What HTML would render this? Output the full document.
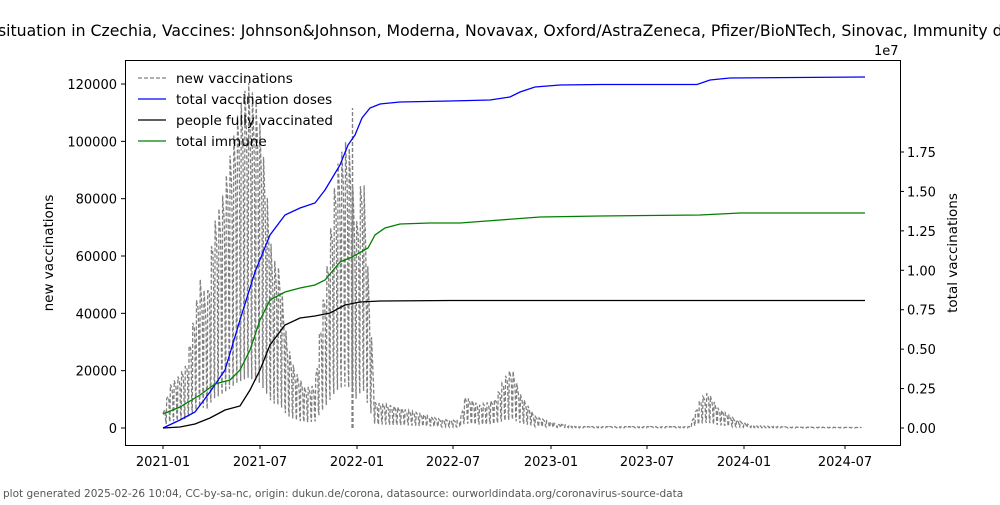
<!DOCTYPE html>
<html><head><meta charset="utf-8"><style>
body{margin:0;background:#fff;width:1000px;height:500px;overflow:hidden}
svg{font-family:"DejaVu Sans","Liberation Sans",sans-serif}
</style></head><body>
<svg id="s" width="1000" height="500" viewBox="0 0 1000 500" xmlns="http://www.w3.org/2000/svg">
<rect width="1000" height="500" fill="#fff"/>
<text x="-2" y="36" font-size="15.7" fill="#000">situation in Czechia, Vaccines: Johnson&amp;Johnson, Moderna, Novavax, Oxford/AstraZeneca, Pfizer/BioNTech, Sinovac, Immunity data</text>
<g id="plot"></g>
<rect x="125.5" y="60.5" width="775" height="385" fill="none" stroke="#000" stroke-width="1"/>
<g font-size="13" fill="#000" id="ticks"></g>
<text transform="translate(53,253) rotate(-90)" text-anchor="middle" font-size="13.5">new vaccinations</text>
<text transform="translate(957,253) rotate(-90)" text-anchor="middle" font-size="13.5">total vaccinations</text>
<text x="874" y="55" font-size="13">1e7</text>
<g font-size="13.5">
<line x1="138" y1="78" x2="166" y2="78" stroke="#808080" stroke-width="1.3" stroke-dasharray="4,2"/>
<text x="176" y="83">new vaccinations</text>
<line x1="138" y1="99" x2="166" y2="99" stroke="#0000ff" stroke-width="1.3"/>
<text x="176" y="104">total vaccination doses</text>
<line x1="138" y1="120" x2="166" y2="120" stroke="#000" stroke-width="1.3"/>
<text x="176" y="125">people fully vaccinated</text>
<line x1="138" y1="141" x2="166" y2="141" stroke="#008000" stroke-width="1.3"/>
<text x="176" y="146">total immune</text>
</g>
<text x="3" y="497" font-size="10.5" fill="#555">plot generated 2025-02-26 10:04, CC-by-sa-nc, origin: dukun.de/corona, datasource: ourworldindata.org/coronavirus-source-data</text>
</svg>
<script>
var NS="http://www.w3.org/2000/svg",P=document.getElementById('plot'),T=document.getElementById('ticks');
function el(t,a,par){var e=document.createElementNS(NS,t);for(var k in a)e.setAttribute(k,a[k]);(par||P).appendChild(e);return e}
function interp(pts,x){if(x<=pts[0][0])return pts[0][1];for(var i=1;i<pts.length;i++){if(x<=pts[i][0]){var a=pts[i-1],b=pts[i];return a[1]+(b[1]-a[1])*(x-a[0])/(b[0]-a[0]);}}return pts[pts.length-1][1]}
for(var v=0;v<=120000;v+=20000){var y=428-v/20000*57.33;el('line',{x1:121,x2:125,y1:y,y2:y,stroke:'#000'},T);var t=el('text',{x:117,y:y+5,'text-anchor':'end'},T);t.textContent=v;}
var rl=['0.00','0.25','0.50','0.75','1.00','1.25','1.50','1.75'];
for(var i=0;i<8;i++){var y=428-i*39.43;el('line',{x1:900,x2:904,y1:y,y2:y,stroke:'#000'},T);var t=el('text',{x:907,y:y+5},T);t.textContent=rl[i];}
var xl=['2021-01','2021-07','2022-01','2022-07','2023-01','2023-07','2024-01','2024-07'],xp=[163,260,357,453,551,647,744,845];
for(var i=0;i<8;i++){el('line',{x1:xp[i],x2:xp[i],y1:445,y2:449,stroke:'#000'},T);var t=el('text',{x:xp[i],y:466,'text-anchor':'middle'},T);t.textContent=xl[i];}
var up=[[163,5000],[170,15000],[178,18000],[186,22000],[192,35000],[200,52000],[207,45000],[213,70000],[222,80000],[230,95000],[238,110000],[248,121000],[258,112000],[265,90000],[272,60000],[280,55000],[287,30000],[295,20000],[305,14000],[315,15000],[320,35000],[328,60000],[336,90000],[345,100000],[350,97000],[356,70000],[363,93000],[368,55000],[375,9000],[390,8000],[410,6000],[440,3000],[460,2500],[465,11000],[480,8000],[495,10000],[505,18000],[512,21000],[520,12000],[535,4000],[555,1500],[580,500],[690,500],[700,10000],[708,12500],[718,7000],[735,3000],[750,1000],[790,300],[862,200]];
var pat=[1,0.95,0.9,0.85,0.7,0.15,0.05],pts=[];
for(var d=0;d<1320;d++){var x=163+d*0.532;if(x>862)break;var u=interp(up,x),v=u*(0.1+0.9*pat[d%7]);pts.push(x.toFixed(1)+','+(428-v/20000*57.33).toFixed(1));}
el('polyline',{points:pts.join(' '),fill:'none',stroke:'#808080','stroke-width':1.3,'stroke-dasharray':'4,2'});
el('polyline',{points:'352,428 352.5,108 353,428',fill:'none',stroke:'#808080','stroke-width':1.3,'stroke-dasharray':'4,2'});
function line(p,c){el('polyline',{points:p.map(function(q){return q.join(',')}).join(' '),fill:'none',stroke:c,'stroke-width':1.3})}
line([[163,428],[180,420],[195,412],[210,392],[225,370],[240,320],[255,272],[270,235],[285,215],[300,208],[315,203],[325,190],[340,165],[348,145],[355,135],[362,118],[370,108],[380,104],[400,102],[450,101],[490,100],[510,97],[520,92],[535,87],[560,85],[600,84.5],[697,84.5],[710,80],[730,78],[865,77]],'#0000ff');
line([[163,414],[180,407],[200,395],[215,384],[230,380],[240,370],[250,350],[260,320],[270,300],[285,292],[300,288],[315,285],[325,280],[340,262],[352,257],[368,248],[375,235],[385,228],[400,224],[430,223],[460,223],[500,220],[540,217],[600,216],[700,215],[740,213],[865,213]],'#008000');
line([[163,428],[180,427],[195,424],[210,418],[225,410],[240,406],[250,390],[260,370],[270,345],[285,325],[300,318],[315,316],[330,313],[345,305],[360,302],[380,301],[450,300.5],[865,300.5]],'#000');
</script>
</body></html>
